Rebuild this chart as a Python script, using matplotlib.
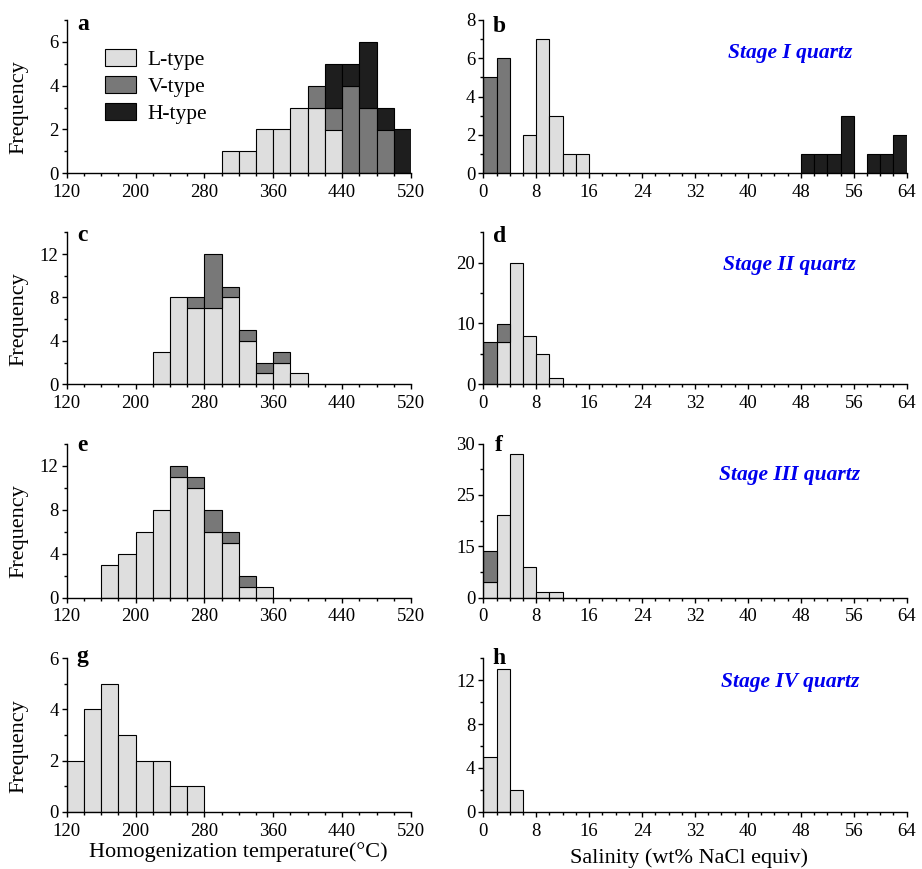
import numpy as np
import matplotlib
matplotlib.use("Agg")
import matplotlib.pyplot as plt
from matplotlib.patches import Patch
from matplotlib.ticker import MultipleLocator, FixedLocator, FixedFormatter

plt.rcParams['font.family'] = ['Liberation Serif', 'DejaVu Serif']

# colours of the three inclusion types
c_L = '#dedede'
c_V = '#787878'
c_H = '#1e1e1e'

# ---- homogenization temperature (bin width 20 C, left edges) ----
a_bins = [300, 320, 340, 360, 380, 400, 420, 440, 460, 480, 500]
a_L = [1, 1, 2, 2, 3, 3, 2, 0, 0, 0, 0]
a_V = [0, 0, 0, 0, 0, 1, 1, 4, 3, 2, 0]
a_H = [0, 0, 0, 0, 0, 0, 2, 1, 3, 1, 2]

c_bins = [220, 240, 260, 280, 300, 320, 340, 360, 380]
c_Lv = [3, 8, 7, 7, 8, 4, 1, 2, 1]
c_Vv = [0, 0, 1, 5, 1, 1, 1, 1, 0]

e_bins = [160, 180, 200, 220, 240, 260, 280, 300, 320, 340]
e_L = [3, 4, 6, 8, 11, 10, 6, 5, 1, 1]
e_V = [0, 0, 0, 0, 1, 1, 2, 1, 1, 0]

g_bins = [120, 140, 160, 180, 200, 220, 240, 260]
g_L = [2, 4, 5, 3, 2, 2, 1, 1]

# ---- salinity (bin width 2 wt%, left edges) ----
b_bins = [0, 2, 6, 8, 10, 12, 14, 48, 50, 52, 54, 58, 60, 62]
b_L = [0, 0, 2, 7, 3, 1, 1, 0, 0, 0, 0, 0, 0, 0]
b_V = [5, 6, 0, 0, 0, 0, 0, 0, 0, 0, 0, 0, 0, 0]
b_H = [0, 0, 0, 0, 0, 0, 0, 1, 1, 1, 3, 1, 1, 2]

d_bins = [0, 2, 4, 6, 8, 10]
d_L = [0, 7, 20, 8, 5, 1]
d_V = [7, 3, 0, 0, 0, 0]

f_bins = [0, 2, 4, 6, 8, 10]
f_L = [3, 16, 28, 6, 1, 1]
f_V = [6, 0, 0, 0, 0, 0]

h_bins = [0, 2, 4]
h_L = [5, 13, 2]

stages = ['Stage I quartz', 'Stage II quartz', 'Stage III quartz', 'Stage IV quartz']

fig = plt.figure(figsize=(9.22, 8.69), dpi=100)
W, H = 922, 869


def make_ax(x0, x1, ytop, ybot):
    return fig.add_axes([x0 / W, 1 - ybot / H, (x1 - x0) / W, (ybot - ytop) / H])


def stack(ax, bins, parts, width):
    bottom = np.zeros(len(bins))
    for vals, col in parts:
        vals = np.array(vals, dtype=float)
        m = vals > 0
        ax.bar(np.array(bins)[m], vals[m], width=width, bottom=bottom[m], align='edge',
               color=col, edgecolor='black', linewidth=0.8, zorder=2)
        bottom += vals


def style(ax, xmin, xmax, xmaj, xmin_step, ymax, ymaj, ymin_step):
    ax.set_xlim(xmin, xmax)
    ax.set_ylim(0, ymax)
    for s in ['top', 'right']:
        ax.spines[s].set_visible(False)
    for s in ['left', 'bottom']:
        ax.spines[s].set_linewidth(1.0)
        ax.spines[s].set_zorder(3)
    ax.set_xticks(np.arange(xmin, xmax + 1, xmaj))
    ax.set_xticks(np.arange(xmin, xmax + 1, xmin_step), minor=True)
    ax.yaxis.set_major_locator(MultipleLocator(ymaj))
    ax.yaxis.set_minor_locator(MultipleLocator(ymin_step))
    ax.tick_params(which='major', direction='out', length=3.8, width=1.0, labelsize=13.5, pad=2)
    ax.tick_params(which='minor', direction='out', length=2.2, width=1.0)
    ax.tick_params(axis='x', which='major', pad=4)


def letter_label(ax, letter, dx_px, down_px):
    ax.annotate(letter, xy=(0, 1), xycoords='axes fraction',
                xytext=(dx_px * 0.72, -down_px * 0.72), textcoords='offset points',
                fontsize=17, fontweight='bold', ha='center', va='center')


rows = [(20, 173.3), (232.3, 384.3), (443.5, 597.5), (658.3, 811.7)]
lx0, lx1 = 66.7, 411
rx0, rx1 = 483.3, 906.7

left_data = [
    (a_bins, [(a_L, c_L), (a_V, c_V), (a_H, c_H)], 7, 2, 1, 'a', 5),
    (c_bins, [(c_Lv, c_L), (c_Vv, c_V)], 14, 4, 2, 'c', 3),
    (e_bins, [(e_L, c_L), (e_V, c_V)], 14, 4, 2, 'e', 1.7),
    (g_bins, [(g_L, c_L)], 6, 2, 1, 'g', -1.5),
]
right_data = [
    (b_bins, [(b_L, c_L), (b_V, c_V), (b_H, c_H)], 8, 2, 1, 'b', 0.785, 7),
    (d_bins, [(d_L, c_L), (d_V, c_V)], 25, 10, 5, 'd', 0.785, 4.4),
    (f_bins, [(f_L, c_L), (f_V, c_V)], 30, 10, 5, 'f', 0.794, 2.4),
    (h_bins, [(h_L, c_L)], 14, 4, 2, 'h', 0.847, 0),
]

for i, (ytop, ybot) in enumerate(rows):
    bins, parts, ymax, ymaj, ymn, letter, down = left_data[i]
    ax = make_ax(lx0, lx1, ytop, ybot)
    stack(ax, bins, parts, 20)
    style(ax, 120, 520, 80, 20, ymax, ymaj, ymn)
    ax.set_ylabel('Frequency', fontsize=16)
    ax.yaxis.set_label_coords(-0.11, 0.43)
    letter_label(ax, letter, 16, down)
    if letter == 'a':
        handles = [Patch(facecolor=c, edgecolor='black', linewidth=0.8) for c in (c_L, c_V, c_H)]
        ax.legend(handles, ['L-type', 'V-type', 'H-type'], loc='upper left',
                  bbox_to_anchor=(0.11, 0.81), frameon=False, fontsize=15.5,
                  handlelength=1.45, handleheight=0.85, handletextpad=0.55,
                  labelspacing=0.28, borderaxespad=0, borderpad=0)

    bins, parts, ymax, ymaj, ymn, letter, ty, down = right_data[i]
    ax = make_ax(rx0, rx1, ytop, ybot)
    stack(ax, bins, parts, 2)
    style(ax, 0, 64, 8, 2, ymax, ymaj, ymn)
    if letter == 'f':
        ax.yaxis.set_major_locator(FixedLocator([0, 10, 20, 30]))
        ax.yaxis.set_major_formatter(FixedFormatter(['0', '15', '25', '30']))
    letter_label(ax, letter, 16, down)
    ax.text(0.724, ty, stages[i], transform=ax.transAxes, fontsize=15.5,
            fontweight='bold', fontstyle='italic', color='#0000ee',
            ha='center', va='center')

fig.text(238.8 / W, 1 - 851.7 / H, 'Homogenization temperature(°C)', fontsize=16,
         ha='center', va='center')
fig.text(689 / W, 1 - 858 / H, 'Salinity (wt% NaCl equiv)', fontsize=16,
         ha='center', va='center')

fig.savefig('out.png', dpi=100)
